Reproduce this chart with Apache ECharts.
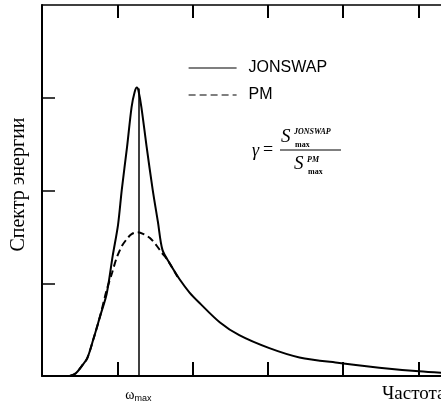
<!DOCTYPE html>
<html>
<head>
<meta charset="utf-8">
<script src="https://cdn.jsdelivr.net/npm/echarts@6/dist/echarts.min.js"></script>
<style>
html,body{margin:0;padding:0;background:#fff;}
#chart{width:441px;height:405px;}
</style>
</head>
<body>
<div id="chart"></div>
<script>
// ---- data ----
var seriesNames = ['JONSWAP', 'PM'];
var jonswapFreq = [0.37,0.45,0.53,0.60,0.68,0.77,0.86,0.94,1.01,1.06,1.13,1.19,1.23,1.26,1.28,1.32,1.39,1.47,1.54,1.60,1.70,1.83,1.96,2.09,2.36,2.62,3.02,3.42,3.95,4.48,5.01,5.40];
var jonswapVal  = [0.00,0.03,0.11,0.19,0.39,0.64,0.89,1.30,1.63,2.01,2.47,2.90,3.06,3.11,3.08,2.90,2.47,2.01,1.66,1.36,1.21,1.04,0.90,0.79,0.58,0.44,0.30,0.20,0.14,0.09,0.05,0.03];
var pmFreq = [0.37,0.45,0.53,0.60,0.68,0.77,0.86,0.93,0.99,1.06,1.13,1.19,1.27,1.35,1.43,1.51,1.59,1.66,1.72,1.80];
var pmVal  = [0.00,0.03,0.11,0.19,0.39,0.64,0.93,1.11,1.27,1.40,1.48,1.53,1.55,1.53,1.49,1.42,1.33,1.26,1.18,1.07];
var xTicks = [1, 2, 3, 4, 5];
var yTicks = [1, 2, 3];
var omegaMax = 1.28;
var omegaMaxTop = 3.1;
var xLabel = 'Частота';
var yLabel = 'Спектр энергии';

function pairs(xs, ys) { return xs.map(function (x, i) { return [x, ys[i]]; }); }

var chart = echarts.init(document.getElementById('chart'), null, {renderer: 'canvas'});
var serif = '"Liberation Serif", "DejaVu Serif", serif';
var sans = '"Liberation Sans", Arial, sans-serif';

var option = {
  animation: false,
  backgroundColor: '#fff',
  grid: {left: 42, top: 5, right: 0, height: 371, containLabel: false},
  legend: {
    orient: 'vertical', left: 188, top: 60, padding: 0,
    itemWidth: 48, itemHeight: 14, itemGap: 11,
    data: seriesNames,
    lineStyle: {width: 1.2},
    itemStyle: {opacity: 0},
    textStyle: {fontFamily: sans, fontSize: 16, color: '#000', padding: [0, 0, 0, 7]}
  },
  xAxis: [{
    type: 'value', min: 0, max: 5.3, position: 'bottom',
    axisLine: {show: true, lineStyle: {color: '#000', width: 2}},
    axisTick: {show: true, inside: true, length: 14, customValues: xTicks, lineStyle: {color: '#000', width: 2}},
    axisLabel: {show: false}, splitLine: {show: false}
  }, {
    type: 'value', min: 0, max: 5.3, position: 'top',
    axisLine: {show: true, onZero: false, lineStyle: {color: '#000', width: 1.5}},
    axisTick: {show: true, inside: true, length: 13, customValues: xTicks, lineStyle: {color: '#000', width: 2}},
    axisLabel: {show: false}, splitLine: {show: false}
  }],
  yAxis: {
    type: 'value', min: 0, max: 4,
    name: yLabel, nameLocation: 'middle', nameGap: 13,
    nameTextStyle: {fontFamily: serif, fontSize: 20, color: '#000', padding: [0, 0, 0, 12]},
    axisLine: {show: true, lineStyle: {color: '#000', width: 2}},
    axisTick: {show: true, inside: true, length: 13, customValues: yTicks, lineStyle: {color: '#000', width: 1.5}},
    axisLabel: {show: false}, splitLine: {show: false}
  },
  series: [{
    name: seriesNames[0], type: 'line', symbol: 'none', smooth: 0.3,
    data: pairs(jonswapFreq, jonswapVal),
    lineStyle: {color: '#000', width: 2},
    itemStyle: {color: '#000'},
    markLine: {
      silent: true, symbol: 'none', animation: false,
      lineStyle: {color: '#000', width: 1.5, type: 'solid'},
      label: {
        show: true, position: 'start', distance: 12,
        formatter: '{w|ω}{s|max}',
        rich: {
          w: {fontFamily: serif, fontSize: 14, color: '#000'},
          s: {fontFamily: sans, fontSize: 9, color: '#000', verticalAlign: 'bottom', padding: [6, 0, 0, 0]}
        }
      },
      data: [[{coord: [omegaMax, 0]}, {coord: [omegaMax, omegaMaxTop]}]]
    }
  }, {
    name: seriesNames[1], type: 'line', symbol: 'none', smooth: 0.3,
    data: pairs(pmFreq, pmVal),
    lineStyle: {color: '#000', width: 2, type: [7, 4]},
    itemStyle: {color: '#000'}
  }],
  graphic: [
    {type: 'text', left: 382, top: 385, style: {text: xLabel, font: '19px ' + serif, fill: '#000'}},
    {type: 'text', x: 252, y: 151, style: {text: 'γ', font: 'italic 18px ' + serif, fill: '#000', verticalAlign: 'middle'}},
    {type: 'text', x: 263, y: 150, style: {text: '=', font: '18px ' + serif, fill: '#000', verticalAlign: 'middle'}},
    {type: 'line', shape: {x1: 280, y1: 150, x2: 341, y2: 150}, style: {stroke: '#000', lineWidth: 1}},
    {type: 'text', x: 281, y: 137, style: {text: 'S', font: 'italic 19px ' + serif, fill: '#000', verticalAlign: 'middle'}},
    {type: 'text', x: 294, y: 132, style: {text: 'JONSWAP', font: 'italic bold 8px ' + serif, fill: '#000', verticalAlign: 'middle'}},
    {type: 'text', x: 295, y: 145, style: {text: 'max', font: 'bold 8px ' + serif, fill: '#000', verticalAlign: 'middle'}},
    {type: 'text', x: 294, y: 164, style: {text: 'S', font: 'italic 19px ' + serif, fill: '#000', verticalAlign: 'middle'}},
    {type: 'text', x: 307, y: 160, style: {text: 'PM', font: 'italic bold 8px ' + serif, fill: '#000', verticalAlign: 'middle'}},
    {type: 'text', x: 308, y: 172, style: {text: 'max', font: 'bold 8px ' + serif, fill: '#000', verticalAlign: 'middle'}}
  ]
};
chart.setOption(option);
</script>
</body>
</html>
